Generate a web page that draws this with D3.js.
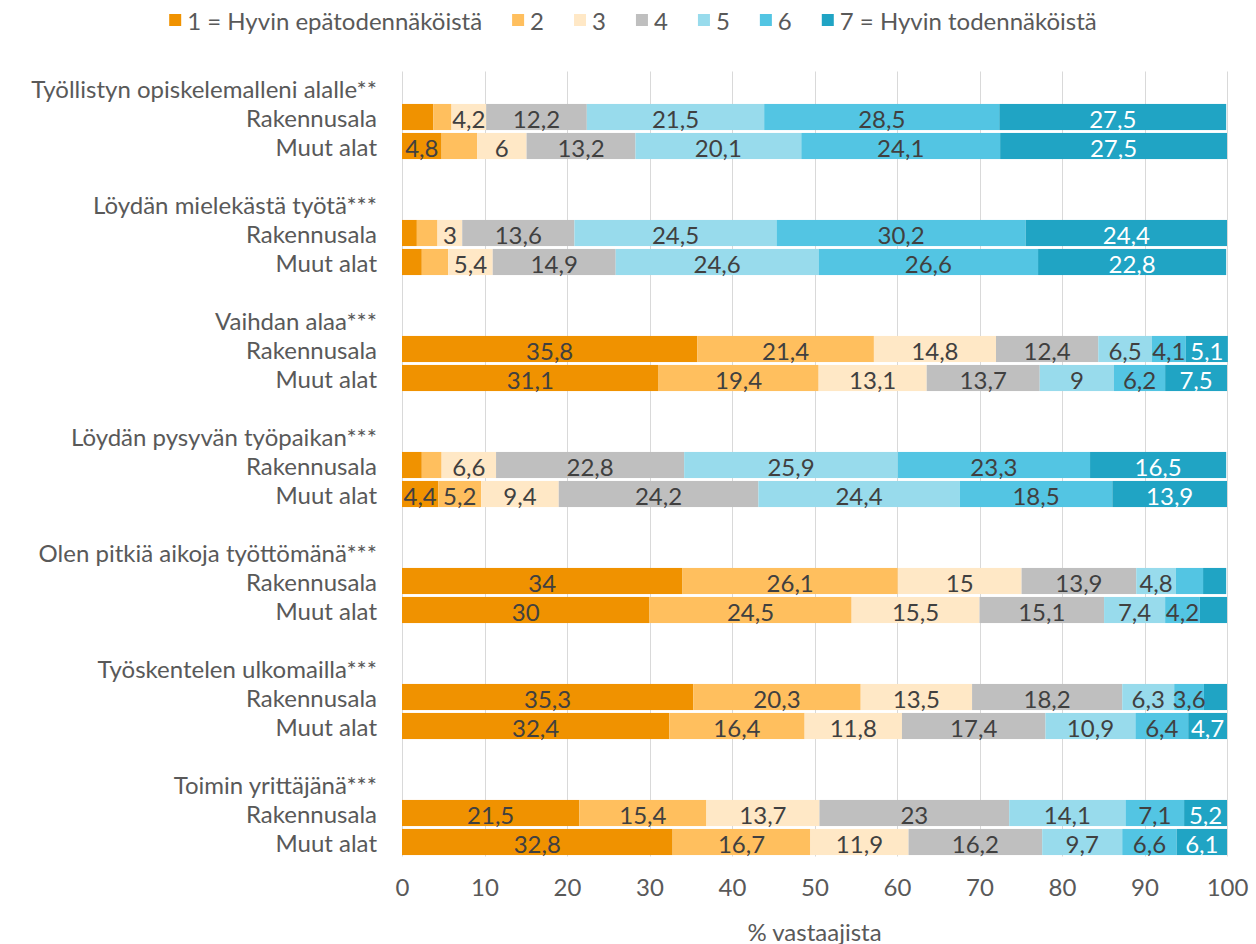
<!DOCTYPE html>
<html lang="fi">
<head>
<meta charset="utf-8">
<script src="https://cdn.jsdelivr.net/npm/d3@7/dist/d3.min.js"></script>
<style>
  html, body { margin: 0; padding: 0; background: #fff; }
  svg { display: block; font-family: Lato, "Open Sans", sans-serif; }
</style>
</head>
<body>
<svg id="chart" width="1256" height="944"></svg>
<script>
// Survey statements (category headers)
const categories = [
  "Työllistyn opiskelemalleni alalle**",
  "Löydän mielekästä työtä***",
  "Vaihdan alaa***",
  "Löydän pysyvän työpaikan***",
  "Olen pitkiä aikoja työttömänä***",
  "Työskentelen ulkomailla***",
  "Toimin yrittäjänä***"
];

// Respondent groups inside each statement
const groups = ["Rakennusala", "Muut alat"];

// Scale points 1..7
const legendLabels = ["1 = Hyvin epätodennäköistä", "2", "3", "4", "5", "6", "7 = Hyvin todennäköistä"];
const colors = ["#F09200", "#FFBF5E", "#FFE8C6", "#BFBFBF", "#98DBEC", "#53C5E3", "#20A4C4"];
const labelColors = ["#404040", "#404040", "#404040", "#404040", "#404040", "#404040", "#FFFFFF"];

// Share of respondents (%) per scale point, one row per statement
const rakennusala = [
  [3.8, 2.2, 4.2, 12.2, 21.5, 28.5, 27.5],
  [1.8, 2.5, 3, 13.6, 24.5, 30.2, 24.4],
  [35.8, 21.4, 14.8, 12.4, 6.5, 4.1, 5.1],
  [2.4, 2.4, 6.6, 22.8, 25.9, 23.3, 16.5],
  [34, 26.1, 15, 13.9, 4.8, 3.3, 2.8],
  [35.3, 20.3, 13.5, 18.2, 6.3, 3.6, 2.8],
  [21.5, 15.4, 13.7, 23, 14.1, 7.1, 5.2]
];
const muutAlat = [
  [4.8, 4.3, 6, 13.2, 20.1, 24.1, 27.5],
  [2.4, 3.2, 5.4, 14.9, 24.6, 26.6, 22.8],
  [31.1, 19.4, 13.1, 13.7, 9, 6.2, 7.5],
  [4.4, 5.2, 9.4, 24.2, 24.4, 18.5, 13.9],
  [30, 24.5, 15.5, 15.1, 7.4, 4.2, 3.3],
  [32.4, 16.4, 11.8, 17.4, 10.9, 6.4, 4.7],
  [32.8, 16.7, 11.9, 16.2, 9.7, 6.6, 6.1]
];

// Narrow segments drawn without a value label: [statement, group, scale point]
const unlabeled = [
  [0, 0, 0], [0, 0, 1], [0, 1, 1],
  [1, 0, 0], [1, 0, 1], [1, 1, 0], [1, 1, 1],
  [3, 0, 0], [3, 0, 1],
  [4, 0, 5], [4, 0, 6], [4, 1, 6],
  [5, 0, 6]
];

const xTicks = d3.range(0, 101, 10);
const axisTitle = "% vastaajista";

// ---- layout ----
const svg = d3.select("#chart");
const plot = { left: 402, right: 1227, top: 73.5, bottom: 856.5 };
const labelRight = 377;
const textColor = "#595959";
const fontSize = 24;

// Rows: header, two group bars, spacer (no spacer after the last statement)
const rows = [];
categories.forEach((c, i) => {
  rows.push({ key: `h${i}`, type: "header", text: c });
  groups.forEach((g, j) => rows.push({ key: `b${i}-${j}`, type: "bar", text: g, cat: i, grp: j }));
  if (i < categories.length - 1) rows.push({ key: `s${i}`, type: "spacer" });
});

const x = d3.scaleLinear().domain([0, 100]).range([plot.left, plot.right]);
const y = d3.scaleBand().domain(rows.map(r => r.key)).range([plot.top, plot.bottom])
  .paddingInner(0.1).paddingOuter(0.05);
const rowCenter = k => y(k) + y.bandwidth() / 2;

// gridlines
svg.append("g").selectAll("line").data(xTicks).join("line")
  .attr("x1", d => Math.round(x(d)) + 0.5).attr("x2", d => Math.round(x(d)) + 0.5)
  .attr("y1", plot.top - 2).attr("y2", plot.bottom)
  .attr("stroke", "#D9D9D9").attr("stroke-width", 1);

// x axis (labels only)
const xAxis = d3.axisBottom(x).tickValues(xTicks).tickSize(0).tickPadding(0);
const axG = svg.append("g").attr("transform", `translate(0, ${plot.bottom + 32})`).call(xAxis);
axG.select(".domain").remove();
axG.selectAll("text").attr("fill", textColor).attr("font-size", fontSize)
  .attr("font-family", "Lato, sans-serif").attr("dy", "0.32em");

svg.append("text").attr("x", (plot.left + plot.right) / 2).attr("y", 931)
  .attr("text-anchor", "middle").attr("dominant-baseline", "central")
  .attr("fill", textColor).attr("font-size", fontSize).text(axisTitle);

// stacked segments
const series = [rakennusala, muutAlat];
const segs = [];
rows.filter(r => r.type === "bar").forEach(r => {
  const vals = series[r.grp][r.cat];
  let acc = 0;
  vals.forEach((v, k) => {
    const hide = unlabeled.some(u => u[0] === r.cat && u[1] === r.grp && u[2] === k);
    segs.push({ row: r.key, k, v, x0: acc, x1: acc + v, label: !hide });
    acc += v;
  });
});

const barG = svg.append("g");
barG.selectAll("rect").data(segs).join("rect")
  .attr("x", d => x(d.x0)).attr("width", d => x(d.x1) - x(d.x0))
  .attr("y", d => y(d.row)).attr("height", y.bandwidth())
  .attr("fill", d => colors[d.k]);

const fmt = v => String(v).replace(".", ",");
barG.selectAll("text").data(segs.filter(d => d.label)).join("text")
  .attr("x", d => x((d.x0 + d.x1) / 2)).attr("y", d => rowCenter(d.row) + 1)
  .attr("text-anchor", "middle").attr("dominant-baseline", "central")
  .attr("font-size", fontSize).attr("fill", d => labelColors[d.k])
  .text(d => fmt(d.v));

// row labels
svg.append("g").selectAll("text").data(rows.filter(r => r.type !== "spacer")).join("text")
  .attr("x", labelRight).attr("y", r => rowCenter(r.key))
  .attr("text-anchor", "end").attr("dominant-baseline", "central")
  .attr("font-size", fontSize).attr("fill", textColor)
  .text(r => r.text);

// legend
const legG = svg.append("g").attr("transform", "translate(0, 20)");
const items = legG.selectAll("g").data(legendLabels).join("g");
items.append("rect").attr("width", 12).attr("height", 12).attr("y", -6)
  .attr("fill", (d, i) => colors[i]);
items.append("text").attr("x", 18).attr("dominant-baseline", "central")
  .attr("font-size", fontSize).attr("fill", textColor).text(d => d);
let cx = 0;
const offsets = [];
items.each(function () {
  const w = this.getBBox().width;
  offsets.push(cx);
  cx += w + 30;
});
const total = cx - 30;
const start = 633 - total / 2;
items.attr("transform", (d, i) => `translate(${start + offsets[i]}, 0)`);
</script>
</body>
</html>
